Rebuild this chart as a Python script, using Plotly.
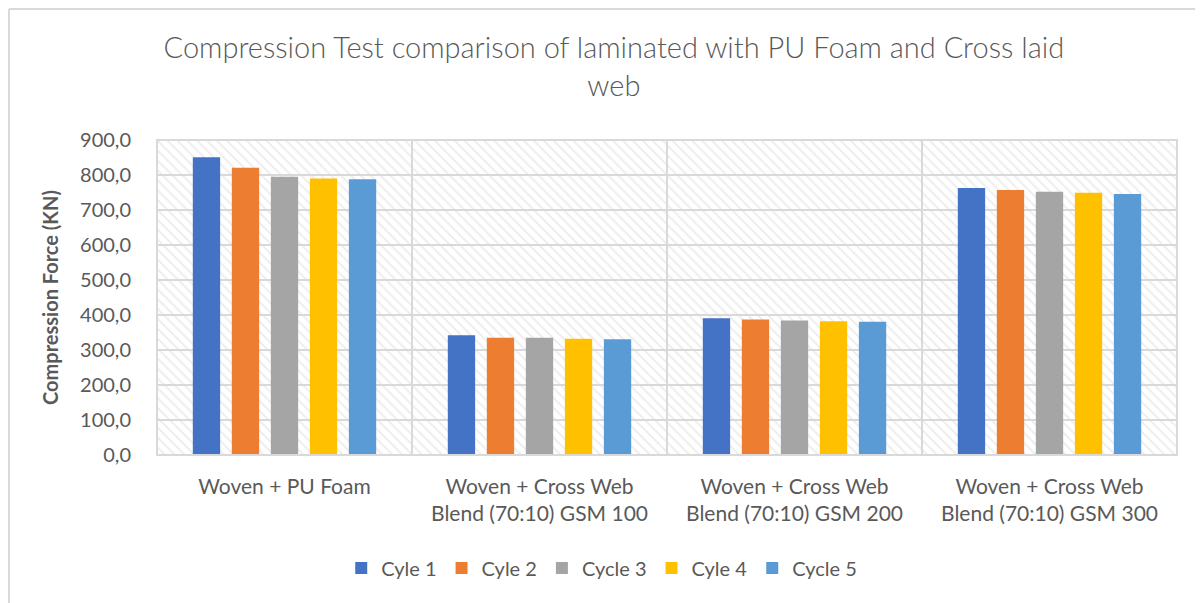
import plotly.graph_objects as go

categories = [
    "Woven + PU Foam",
    "Woven + Cross Web<br>Blend (70:10) GSM 100",
    "Woven + Cross Web<br>Blend (70:10) GSM 200",
    "Woven + Cross Web<br>Blend (70:10) GSM 300",
]
series_names = ["Cyle 1", "Cyle 2", "Cycle 3", "Cyle 4", "Cycle 5"]
cycle1 = [851, 342, 391, 763]
cycle2 = [821, 335, 387, 757]
cycle3 = [795, 335, 384, 752]
cycle4 = [790, 332, 382, 749]
cycle5 = [788, 331, 381, 746]
series_values = [cycle1, cycle2, cycle3, cycle4, cycle5]
colors = ["#4472C4", "#ED7D31", "#A5A5A5", "#FFC000", "#5B9BD5"]
y_ticks = [0, 100, 200, 300, 400, 500, 600, 700, 800, 900]
y_tick_labels = [f"{v:.1f}".replace(".", ",") for v in y_ticks]
bg_top = [900, 900, 900, 900]

FONT = "Lato"
GREY = "#595959"

fig = go.Figure()

# hatched background on base subplot
fig.add_trace(go.Bar(
    x=list(range(len(categories))), y=bg_top, width=1,
    marker=dict(color="rgba(0,0,0,0)", line=dict(width=0),
                pattern=dict(shape="\\", fgcolor="#d9d9d9", size=7, solidity=0.25,
                             bgcolor="rgba(0,0,0,0)")),
    showlegend=False, hoverinfo="skip", xaxis="x", yaxis="y",
))

for name, vals, col in zip(series_names, series_values, colors):
    fig.add_trace(go.Bar(
        x=categories, y=vals, name=name, marker=dict(color=col, line=dict(width=0)),
        xaxis="x2", yaxis="y",
    ))

fig.update_layout(
    width=1195, height=595,
    margin=dict(l=149, r=26, t=132, b=148, autoexpand=False),
    paper_bgcolor="white", plot_bgcolor="white",
    barmode="group", bargap=0.235, bargroupgap=0.3,
    title=dict(
        text="Compression Test comparison of laminated with PU Foam and Cross laid<br>web",
        x=0.507, xanchor="center", y=0.916, yanchor="middle",
        font=dict(family=FONT, size=29, color=GREY, weight=300),
    ),
    font=dict(family=FONT, color=GREY),
    xaxis=dict(range=[-0.5, 3.5], showticklabels=False, showgrid=False, zeroline=False,
               showline=False, fixedrange=True, automargin=False),
    xaxis2=dict(overlaying="x", type="category", tickson="boundaries", showgrid=True,
                gridcolor="#d9d9d9", gridwidth=2, showline=False,
                ticks="", ticklabelstandoff=17,
                tickfont=dict(family=FONT, size=21, color=GREY), side="bottom",
                range=[-0.5, 3.5], automargin=False),
    yaxis=dict(range=[0, 900], tickvals=y_ticks, ticktext=y_tick_labels,
               showgrid=True, gridcolor="#d9d9d9", gridwidth=2, zeroline=False,
               tickfont=dict(family=FONT, size=20, color=GREY),
               ticks="outside", ticklen=21, tickcolor="rgba(0,0,0,0)", automargin=False,
               title=dict(text="<b>Compression Force (KN)</b>",
                          font=dict(family=FONT, size=20, color=GREY), standoff=16)),
    legend=dict(orientation="h", x=0.436, xanchor="center", y=-0.359, yanchor="middle",
                font=dict(family=FONT, size=20, color=GREY), traceorder="normal",
                itemwidth=30),
    shapes=[
        dict(type="rect", xref="paper", yref="paper", x0=0, x1=1, y0=0, y1=1,
             line=dict(color="#d9d9d9", width=2), fillcolor="rgba(0,0,0,0)", layer="above"),
        dict(type="line", xref="paper", yref="paper", x0=-0.1451, x1=-0.1451, y0=-0.5, y1=1.416,
             line=dict(color="#d9d9d9", width=2)),
        dict(type="line", xref="paper", yref="paper", x0=-0.1451, x1=1.03, y0=1.416, y1=1.416,
             line=dict(color="#d9d9d9", width=2)),
    ],
)

fig.write_html("out.html")
